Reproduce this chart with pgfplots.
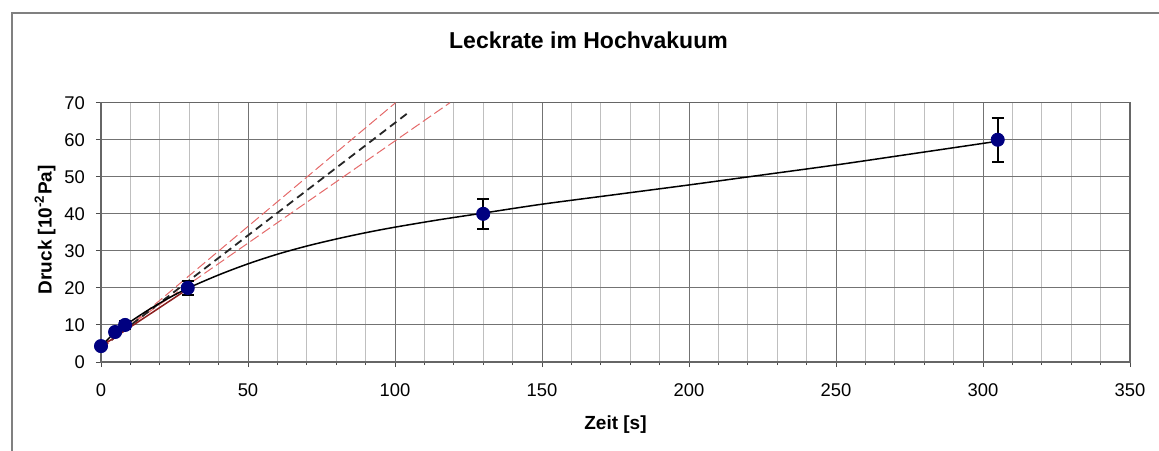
\documentclass[border=0pt]{standalone}
\usepackage{fontspec}
\setmainfont{Liberation Sans}
\usepackage{pgfplots}
\pgfplotsset{compat=1.18}
\definecolor{navyblue}{RGB}{0,0,128}
\definecolor{fitred}{RGB}{228,105,105}
\definecolor{darkred2}{RGB}{140,30,30}
\begin{document}
\begin{tikzpicture}
\useasboundingbox (-50.5pt,-44pt) rectangle (529pt,181pt);
\begin{axis}[
 scale only axis, width=514.5pt, height=129.65pt,
 xmin=0, xmax=350, ymin=0, ymax=70,
 xtick={0,50,...,350}, ytick={0,10,...,70},
 minor x tick num=4,
 grid=both,
 major grid style={line width=0.5pt, color=black!55},
 minor grid style={line width=0.5pt, color=black!25},
 axis line style={black!60, line width=0.7pt},
 tick align=outside, major tick length=2.5pt, minor tick length=1.5pt,
 tick style={black!70, line width=0.5pt},
 xtick pos=bottom, ytick pos=left,
 tick label style={font=\fontsize{9.2}{10}\selectfont},
 /pgf/number format/assume math mode=true,
 xticklabel shift=5pt, yticklabel shift=2pt,
 xlabel={Zeit [s]},
 ylabel={Druck [10\textsuperscript{-2}Pa]},
 label style={font=\bfseries\fontsize{9.5}{11}\selectfont},
 xlabel style={at={(axis description cs:0.5,0)}, anchor=base, yshift=-33.5pt},
 ylabel style={at={(axis description cs:-0.0544,0.51)}, anchor=center},
]
% fit lines
\addplot[fitred, line width=0.5pt, dash pattern=on 5pt off 2pt] coordinates {(0,3.35) (100.2,70)};
\addplot[fitred, line width=0.5pt, dash pattern=on 5pt off 2pt] coordinates {(0,4.5) (118.7,70)};
\addplot[black!85, line width=0.9pt, dash pattern=on 4pt off 2.5pt] coordinates {(0,3.8) (105,67.6)};
\addplot[darkred2, line width=0.75pt] coordinates {(0,4.2) (29.5,19.7)};
% smooth trend curve
\addplot[black, line width=0.75pt, smooth, tension=0.5] coordinates {
 (0,4.3) (4.8,8.0) (8.2,9.9) (15,13.5) (22,16.8) (29.5,19.9) (40,23.5) (50,26.5)
 (60,29.1) (70,31.3) (80,33.2) (90,34.9) (100,36.4) (115,38.4) (130,40.2)
 (150,42.6) (175,45.2) (200,47.8) (225,50.5) (250,53.2) (275,56.1) (305,59.6)};
% measured data
\addplot[only marks, mark=*, mark size=3.3pt, color=navyblue,
 error bars/.cd, y dir=both, y explicit,
 error bar style={black, line width=1pt},
 error mark options={rotate=90, mark size=3pt, line width=1pt, black}]
 table[x=x, y=y, y error=e] {
 x y e
 0 4.3 0.43
 4.8 8.1 0.81
 8.2 10 1.0
 29.5 20 2.0
 130 40 4.0
 305 60 6.0
};
\end{axis}
\draw[black!50, line width=0.75pt] (-44.5pt,-60pt) -- (-44.5pt,174.5pt) -- (560pt,174.5pt);
\node[font=\bfseries\fontsize{11.5}{13}\selectfont, anchor=base] at (243.75pt,156.5pt) {Leckrate im Hochvakuum};
\end{tikzpicture}
\end{document}
